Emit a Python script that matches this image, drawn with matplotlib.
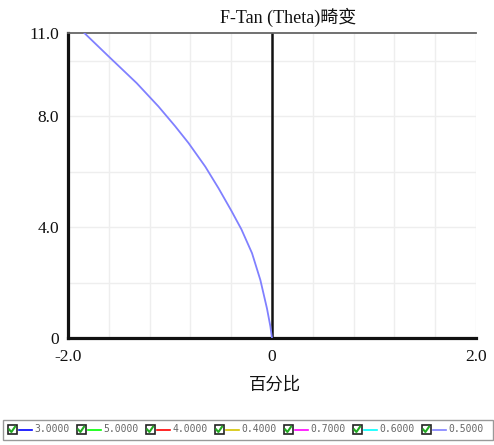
import matplotlib
matplotlib.use("Agg")
import matplotlib.pyplot as plt
from matplotlib.patches import Rectangle
from matplotlib.lines import Line2D

# ---- data ----
curve_x = [-1.84, -1.60, -1.326, -1.113, -0.95, -0.818, -0.654, -0.524, -0.40, -0.30,
           -0.196, -0.114, -0.049, -0.016, -0.004, 0.0]
curve_y = [11.0, 10.15, 9.19, 8.35, 7.64, 7.03, 6.18, 5.40, 4.60, 3.92,
           3.06, 2.09, 1.06, 0.42, 0.10, 0.0]
legend_labels = ["3.0000", "5.0000", "4.0000", "0.4000", "0.7000", "0.6000", "0.5000"]
legend_colors = ["#0000ff", "#00ff00", "#ff0000", "#d4c400", "#ff00ff", "#00ffff", "#8080ff"]
x_ticks = [-2.0, 0.0, 2.0]
x_tick_labels = ["-2.0", "0", "2.0"]
y_ticks = [0, 4.0, 8.0, 11.0]
y_tick_labels = ["0", "4.0", "8.0", "11.0"]
x_grid = [-1.6, -1.2, -0.8, -0.4, 0.4, 0.8, 1.2, 1.6, 2.0]
y_grid = [2, 4, 6, 8, 10]
title = "F-Tan (Theta)畸变"
xlabel = "百分比"

W, H = 494, 445
fig = plt.figure(figsize=(W / 100, H / 100), dpi=100)
fig.patch.set_facecolor("white")

def fx(px):
    return px / W

def fy(py):
    return 1 - py / H

L, R, T, B = 68, 476, 33, 338
ax = fig.add_axes([fx(L), fy(B), (R - L) / W, (B - T) / H])
ax.set_xlim(-2, 2)
ax.set_ylim(0, 11)

for g in x_grid:
    ax.axvline(g, color="#eeeeee", lw=1, zorder=0)
for g in y_grid:
    ax.axhline(g, color="#eeeeee", lw=1, zorder=0)

ax.axvline(0, color="#111111", lw=1.8, zorder=2)
ax.plot(curve_x, curve_y, color="#8080ff", lw=1.3, zorder=3, solid_joinstyle="round")

ax.spines["right"].set_visible(False)
ax.spines["top"].set_color("#666666")
ax.spines["top"].set_linewidth(1.3)
ax.spines["left"].set_color("#111111")
ax.spines["left"].set_linewidth(2.3)
ax.spines["bottom"].set_color("#111111")
ax.spines["bottom"].set_linewidth(2.3)

serif = ["Liberation Serif", "Noto Sans CJK SC"]
ax.set_xticks(x_ticks)
ax.set_xticklabels(x_tick_labels, family=serif, fontsize=12.5)
ax.set_yticks(y_ticks)
ax.set_yticklabels(y_tick_labels, family=serif, fontsize=12.5)
ax.tick_params(axis="both", length=0, colors="#111111")
ax.tick_params(axis="x", pad=8)
ax.tick_params(axis="y", pad=6.5)

fig.text(fx(288), fy(17), title, family=serif, fontsize=13, ha="center", va="center",
         color="#111111")
fig.text(fx(275), fy(385), xlabel, family=["Noto Sans CJK SC"], fontsize=12.5,
         ha="center", va="center", color="#111111")

# legend box
fig.patches.append(Rectangle((fx(3), fy(440)), (493 - 3) / W, (440 - 420) / H,
                             transform=fig.transFigure, fill=False, edgecolor="#999999",
                             lw=1))
cy = 429.5
for i, (lab, col) in enumerate(zip(legend_labels, legend_colors)):
    cx = 12 + i * 69
    s = 9
    fig.patches.append(Rectangle((fx(cx - s / 2), fy(cy + s / 2)), s / W, s / H,
                                 transform=fig.transFigure, facecolor="white",
                                 edgecolor="#222222", lw=1.2))
    fig.lines.append(Line2D([fx(cx - 2.8), fx(cx - 0.6), fx(cx + 3.0)],
                            [fy(cy), fy(cy + 2.5), fy(cy - 2.7)],
                            transform=fig.transFigure, color="#22aa22", lw=1.5))
    fig.lines.append(Line2D([fx(cx + 7), fx(cx + 20)], [fy(cy), fy(cy)],
                            transform=fig.transFigure, color=col, lw=1.2))
    fig.text(fx(cx + 22), fy(cy), lab, family="DejaVu Sans Mono", fontsize=7,
             ha="left", va="center", color="#666666")

fig.savefig("out.png", dpi=100, facecolor="white")
